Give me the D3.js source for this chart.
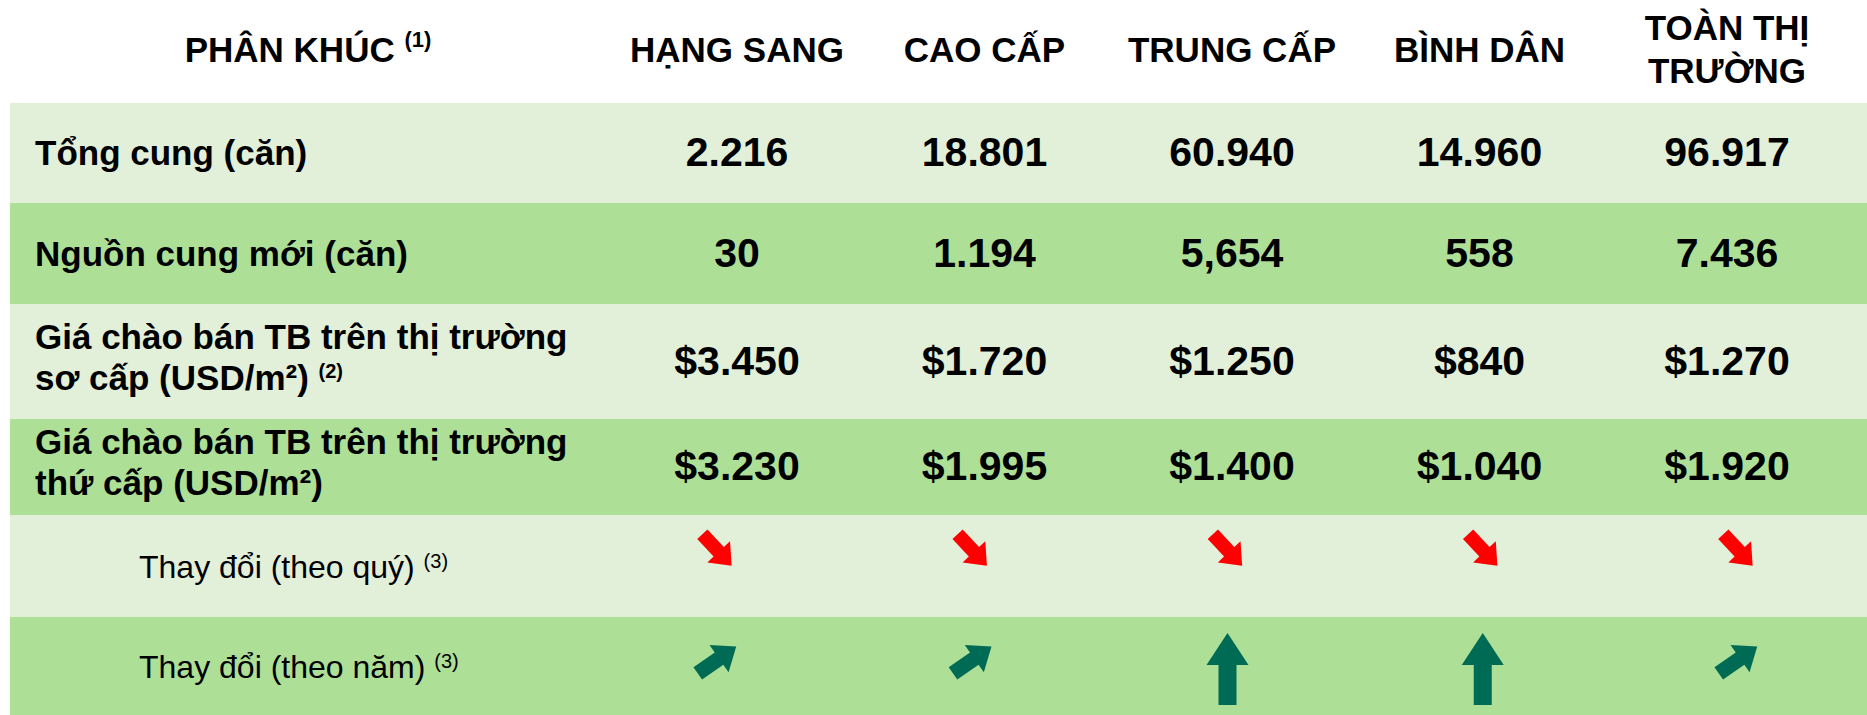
<!DOCTYPE html>
<html lang="vi">
<head>
<meta charset="UTF-8">
<title>Phân khúc căn hộ</title>
<script src="https://cdn.jsdelivr.net/npm/d3@7"></script>
<style>
body {
    margin: 0;
    background: #fff;
}
text {
    font-family: "Liberation Sans", Arial, sans-serif;
    fill: #000;
}
</style>
</head>
<body>
<div id="chart"></div>
<script>

// column headers, one entry per line
const segments = [["HẠNG SANG"], ["CAO CẤP"], ["TRUNG CẤP"], ["BÌNH DÂN"], ["TOÀN THỊ", "TRƯỜNG"]]
const firstHeader = "PHÂN KHÚC"
const firstHeaderNote = "(1)"

// row labels, one entry per line, plus footnote marks
const rowLabels = [
    ["Tổng cung (căn)"],
    ["Nguồn cung mới (căn)"],
    ["Giá chào bán TB trên thị trường", "sơ cấp (USD/m²)"],
    ["Giá chào bán TB trên thị trường", "thứ cấp (USD/m²)"],
    ["Thay đổi (theo quý)"],
    ["Thay đổi (theo năm)"]
]
const rowNotes = ["", "", "(2)", "", "(3)", "(3)"]

// cell values
const totalSupply = ["2.216", "18.801", "60.940", "14.960", "96.917"]
const newSupply = ["30", "1.194", "5,654", "558", "7.436"]
const primaryPrice = ["$3.450", "$1.720", "$1.250", "$840", "$1.270"]
const secondaryPrice = ["$3.230", "$1.995", "$1.400", "$1.040", "$1.920"]
const qoqTrend = ["down", "down", "down", "down", "down"]
const yoyTrend = ["up", "up", "strongUp", "strongUp", "up"]

/********************
* LAYOUT
*********************/
const W = 1867, H = 715
const tableLeft = 10
const headerH = 103
const rowHeights = [100, 101, 115, 96, 102, 98]
const labelCenter = 308
const lightFill = "#e2efd9"
const darkFill = "#addf96"

const rows = [
    {values: totalSupply, kind: "text"},
    {values: newSupply, kind: "text"},
    {values: primaryPrice, kind: "text"},
    {values: secondaryPrice, kind: "text"},
    {values: qoqTrend, kind: "arrow"},
    {values: yoyTrend, kind: "arrow"}
].map((r, i) => {
    r.label = rowLabels[i]
    r.note = rowNotes[i]
    r.indent = r.kind == "arrow"
    return r
})

const rowTops = [headerH].concat(Array.from(d3.cumsum(rowHeights)).map(d => headerH + d))

const x = d3.scalePoint()
    .domain(d3.range(segments.length))
    .range([737, 1727])

// the arrow icons sit on a slightly wider spread than the numbers
const xArrow = d3.scalePoint()
    .domain(d3.range(segments.length))
    .range([717, 1738])

// arrow glyphs, drawn pointing right then rotated
const arrowStyles = {
    down: {L: 43, sw: 7, hw: 15.5, hl: 19, rot: 47, color: "#ff0000", dy: -16},
    up: {L: 47, sw: 7.5, hw: 16.6, hl: 21, rot: -35, color: "#006b54", dy: -6},
    strongUp: {L: 72, sw: 9, hw: 21, hl: 32, rot: -90, color: "#006b54", dy: 3}
}

function arrowPath(s) {
    let a = -s.L / 2, b = s.L / 2 - s.hl, c = s.L / 2
    return d3.line()([[a, -s.sw], [b, -s.sw], [b, -s.hw], [c, 0], [b, s.hw], [b, s.sw], [a, s.sw]]) + "Z"
}

const svg = d3.select("#chart")
    .append("svg")
    .attr("width", W)
    .attr("height", H)

/********************
* HEADER
*********************/
function drawHeader() {
    let g = svg.append("g").attr("class", "header")

    let t = g.append("text")
        .attr("x", labelCenter)
        .attr("y", 62)
        .attr("text-anchor", "middle")
        .style("font-size", "35px")
        .style("font-weight", "bold")
    t.append("tspan").text(firstHeader + " ")
    t.append("tspan")
        .attr("dy", -15)
        .style("font-size", "22px")
        .text(firstHeaderNote)

    g.selectAll(".seg")
        .data(segments)
        .enter()
        .append("text")
        .attr("class", "seg")
        .attr("text-anchor", "middle")
        .style("font-size", "35px")
        .style("font-weight", "bold")
        .each(function(lines, i) {
            let el = d3.select(this)
            let ys = lines.length > 1 ? [40, 83] : [62]
            lines.forEach((line, j) => {
                el.append("tspan")
                    .attr("x", x(i))
                    .attr("y", ys[j])
                    .text(line)
            })
        })
}

/********************
* BODY ROWS
*********************/
function drawRows() {
    let g = svg.append("g").attr("class", "rows")

    let row = g.selectAll(".row")
        .data(rows)
        .enter()
        .append("g")
        .attr("class", "row")

    row.append("rect")
        .attr("x", tableLeft)
        .attr("y", (d, i) => rowTops[i])
        .attr("width", W - tableLeft)
        .attr("height", (d, i) => rowHeights[i])
        .attr("fill", (d, i) => i % 2 == 0 ? lightFill : darkFill)

    // labels
    row.append("text")
        .attr("class", "label")
        .style("font-size", d => d.indent ? "32px" : "35px")
        .style("font-weight", d => d.indent ? "normal" : "bold")
        .each(function(d, i) {
            let el = d3.select(this)
            let cy = rowTops[i] + rowHeights[i] / 2
            let ys = d.label.length > 1 ? [cy - 13, cy + 28] : [cy + 12]
            d.label.forEach((line, j) => {
                el.append("tspan")
                    .attr("x", d.indent ? 139 : 35)
                    .attr("y", ys[j])
                    .text(line + (j == d.label.length - 1 && d.note ? " " : ""))
            })
            if (d.note) {
                el.append("tspan")
                    .attr("dy", d.indent ? -10 : -12)
                    .style("font-size", "20px")
                    .text(d.note)
            }
        })

    // values
    row.filter(d => d.kind == "text")
        .each(function(d) {
            let ri = rows.indexOf(d)
            let cy = rowTops[ri] + rowHeights[ri] / 2
            d3.select(this).selectAll(".val")
                .data(d.values)
                .enter()
                .append("text")
                .attr("class", "val")
                .attr("x", (v, k) => x(k))
                .attr("y", cy + 13)
                .attr("text-anchor", "middle")
                .style("font-size", "41px")
                .style("font-weight", "bold")
                .text(v => v)
        })

    // trend arrows
    row.filter(d => d.kind == "arrow")
        .each(function(d) {
            let ri = rows.indexOf(d)
            let cy = rowTops[ri] + rowHeights[ri] / 2
            d3.select(this).selectAll(".arrow")
                .data(d.values)
                .enter()
                .append("path")
                .attr("class", "arrow")
                .attr("d", v => arrowPath(arrowStyles[v]))
                .attr("fill", v => arrowStyles[v].color)
                .attr("transform", (v, k) => "translate(" + xArrow(k) + "," + (cy + arrowStyles[v].dy) + ") rotate(" + arrowStyles[v].rot + ")")
        })
}

drawHeader()
drawRows()

</script>
</body>
</html>
